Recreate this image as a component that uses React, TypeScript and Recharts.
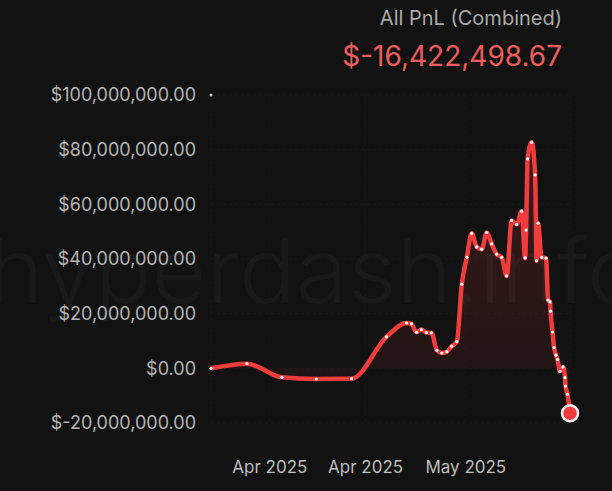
import React from 'react';
import {
  ComposedChart,
  Line,
  Area,
  XAxis,
  YAxis,
  CartesianGrid,
  ReferenceDot,
} from 'recharts';

// Days since start of series
const days = [
  0, 7.2, 14.2, 21.1, 28.2, 35.2, 39.2, 40.2, 41.2, 42.2, 43.2, 44.2, 45.3, 46.3,
  47.3, 48.3, 49.3, 50.3, 51.3, 52.3, 53.3, 54.3, 55.3, 56.3, 57.3, 58.3, 59.3,
  60.3, 61.3, 62.3, 63.0, 63.2, 63.5, 64.3, 65.0, 65.3, 65.6, 66.3, 67.2, 67.6,
  68.0, 68.1, 68.5, 68.8, 69.2, 69.5, 70.0, 70.6, 71.0, 71.1, 71.5, 72.0,
];

// PnL in millions of USD
const pnlMillions = [
  0, 1.7, -3.3, -3.9, -3.8, 11.5, 16.6, 16.3, 13.2, 14.2, 13.1, 13.0, 6.6, 5.6,
  6.1, 8.1, 9.8, 30.8, 40.6, 49.4, 44.4, 43.6, 49.7, 45.5, 41.8, 40.6, 33.8,
  54.1, 52.7, 57.5, 40.4, 50.6, 76.6, 82.7, 70.8, 39.4, 53.1, 40.6, 40.3, 25.0,
  24.3, 20.9, 13.3, 7.6, 4.8, 3.2, -1.1, 0.5, -3.4, -6.5, -9.5, -16.42249867,
];

const xTickDays = [11.8, 31.0, 51.1];
const xTickLabels = ['Apr 2025', 'Apr 2025', 'May 2025'];
const yTicks = [-20000000, 0, 20000000, 40000000, 60000000, 80000000, 100000000];

const titleText = 'All PnL (Combined)';
const valueText = '$-16,422,498.67';
const watermarkText = 'hyperdash.info';

const data = days.map((d, i) => ({ day: d, pnl: pnlMillions[i] * 1e6 }));

const fmtMoney = (v: number) =>
  '$' + v.toLocaleString('en-US', { minimumFractionDigits: 2, maximumFractionDigits: 2 });

const FONT = 'Inter, "Noto Sans", "DejaVu Sans", sans-serif';
const RED = '#f03c3c';

const renderDot = (props: any) => {
  const { cx, cy, index } = props;
  if (cx == null || cy == null) return <g key={`d${index}`} />;
  if (index === data.length - 1) {
    return (
      <circle key={`d${index}`} cx={cx} cy={cy} r={8} fill={RED} stroke="#f4f4f4" strokeWidth={2.5} />
    );
  }
  return <circle key={`d${index}`} cx={cx} cy={cy} r={1.6} fill="#ffffff" />;
};

export default function App() {
  return (
    <div
      style={{
        position: 'fixed',
        left: 0,
        top: 0,
        width: 612,
        height: 491,
        background: '#121212',
        overflow: 'hidden',
        fontFamily: FONT,
      }}
    >
      <svg width={612} height={491} style={{ position: 'absolute', left: 0, top: 0 }}>
        <text
          x={-12}
          y={303}
          fontSize={90}
          fontWeight={300}
          fill="#191919"
          textLength={655}
          lengthAdjust="spacingAndGlyphs"
          fontFamily={FONT}
        >
          {watermarkText}
        </text>
      </svg>
      <div style={{ position: 'absolute', left: 0, top: 0 }}>
        <ComposedChart
          width={612}
          height={491}
          data={data}
          margin={{ top: 95, right: 42, left: 0, bottom: 28 }}
        >
          <defs>
            <linearGradient id="pnlFill" x1="0" y1="0" x2="0" y2="1">
              <stop offset="0%" stopColor="#e53935" stopOpacity={0.34} />
              <stop offset="100%" stopColor="#e53935" stopOpacity={0.07} />
            </linearGradient>
          </defs>
          <CartesianGrid stroke="#191919" strokeDasharray="3 3" />
          <XAxis
            dataKey="day"
            type="number"
            domain={[0, 72]}
            ticks={xTickDays}
            tickFormatter={(v: number) => xTickLabels[xTickDays.indexOf(v)] ?? ''}
            axisLine={false}
            tickLine={false}
            tickSize={0}
            tickMargin={38}
            height={40}
            tick={{ fill: '#bdbdbd', fontSize: 17, fontFamily: FONT }}
          />
          <YAxis
            type="number"
            domain={[-20000000, 100000000]}
            ticks={yTicks}
            tickFormatter={fmtMoney}
            axisLine={false}
            tickLine={false}
            tickSize={0}
            tickMargin={15}
            width={211}
            tick={{ fill: '#b5b5b5', fontSize: 18, fontFamily: FONT }}
          />
          <Area
            type="monotone"
            dataKey="pnl"
            stroke="none"
            fill="url(#pnlFill)"
            baseValue={0}
            isAnimationActive={false}
            dot={false}
            activeDot={false}
          />
          <Line
            type="monotone"
            dataKey="pnl"
            stroke={RED}
            strokeWidth={4.5}
            dot={renderDot}
            activeDot={false}
            isAnimationActive={false}
          />
          <ReferenceDot x={0} y={100000000} r={1.5} fill="#d0d0d0" stroke="none" />
        </ComposedChart>
      </div>
      <svg width={612} height={491} style={{ position: 'absolute', left: 0, top: 0, pointerEvents: 'none' }}>
        <text x={562} y={25} textAnchor="end" fontSize={20} fill="#a9a9a9" fontFamily={FONT}>
          {titleText}
        </text>
        <text x={562} y={66} textAnchor="end" fontSize={28} fill="#ee5c5c" fontFamily={FONT}>
          {valueText}
        </text>
      </svg>
    </div>
  );
}
